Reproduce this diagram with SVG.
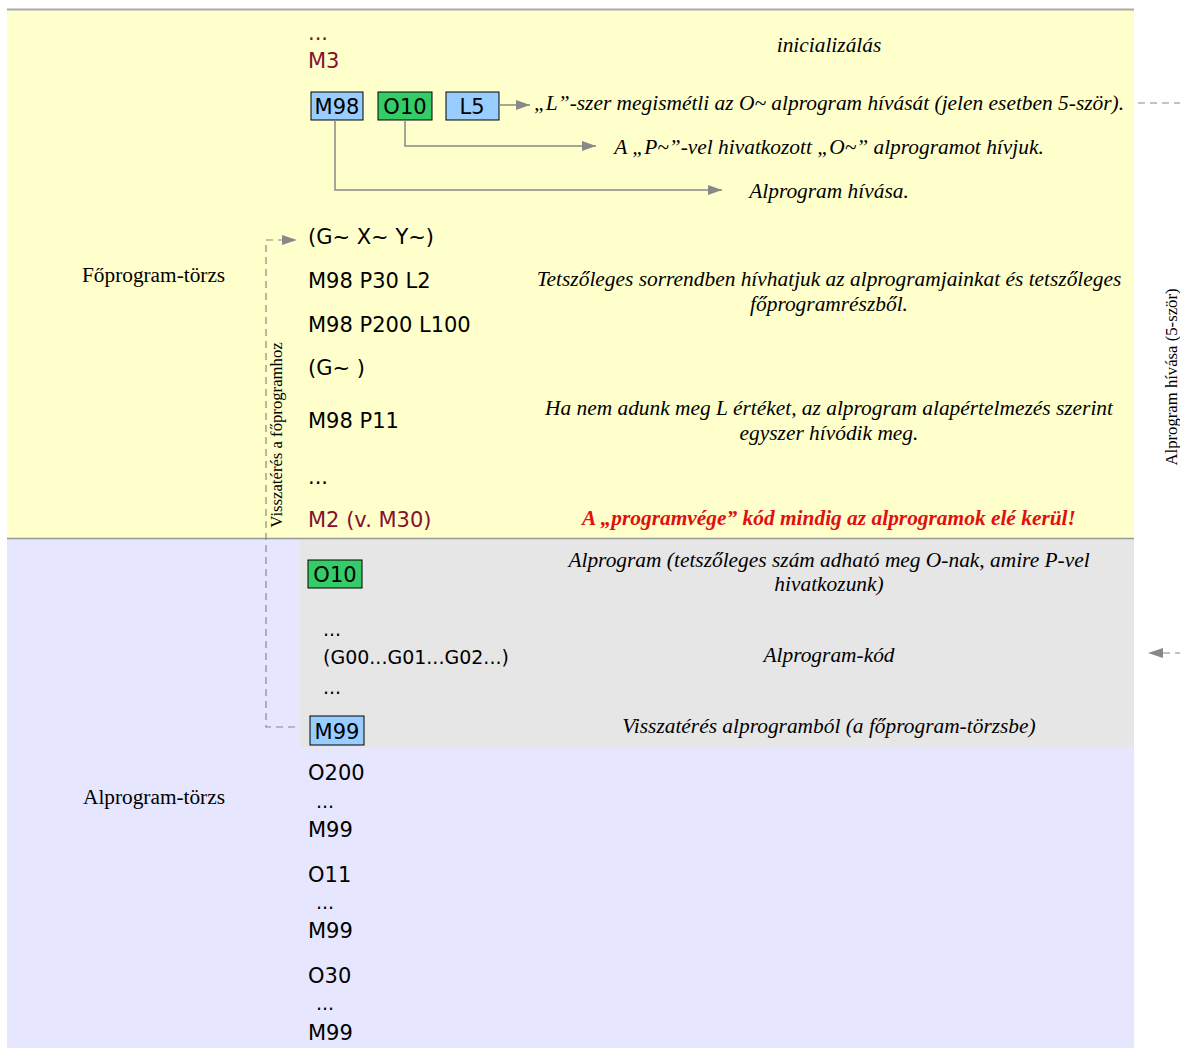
<svg xmlns="http://www.w3.org/2000/svg" width="1180" height="1048" viewBox="0 0 1180 1048">
<defs>
<style>
.code{font-family:"DejaVu Sans",Verdana,sans-serif;font-size:21px;fill:#000}
.sm{font-size:19px}
.red{fill:#850f2c}
.note{font-family:"Liberation Serif","Times New Roman",serif;font-size:21.4px;font-style:italic;fill:#000;text-anchor:middle}
.lbl{font-family:"Liberation Serif","Times New Roman",serif;font-size:21.3px;fill:#000}
.rot{font-family:"Liberation Serif","Times New Roman",serif;font-size:16.7px;fill:#000;text-anchor:middle}
.blue{fill:#99ccff;stroke:#000;stroke-width:1}
.green{fill:#33cc66;stroke:#000;stroke-width:1}
.con{fill:none;stroke:#888;stroke-width:1.5}
.dash{fill:none;stroke:#888;stroke-width:1.2;stroke-dasharray:7,5}
</style>
<marker id="ah" viewBox="0 0 14 10" refX="14" refY="5" markerWidth="14" markerHeight="10" markerUnits="userSpaceOnUse" orient="auto">
<path d="M0,0 L14,5 L0,10 z" fill="#888"/>
</marker>
</defs>
<rect x="0" y="0" width="1180" height="1048" fill="#fff"/>
<g id="regions">
<rect x="7" y="9" width="1127" height="529" fill="#ffffcc"/>
<rect x="7" y="538" width="1127" height="510" fill="#e6e6ff"/>
<rect x="300" y="540" width="834" height="207" fill="#e6e6e6"/>
<line x1="7" y1="9.5" x2="1134" y2="9.5" stroke="#aaa" stroke-width="2"/>
<line x1="7" y1="538.5" x2="1134" y2="538.5" stroke="#999" stroke-width="1.5"/>
</g>
<g id="labels">
<text class="lbl" x="82" y="282">Főprogram-törzs</text>
<text class="lbl" x="83" y="804">Alprogram-törzs</text>
<text class="rot" transform="translate(282,435) rotate(-90)">Visszatérés a főprogramhoz</text>
<text class="rot" transform="translate(1177,377) rotate(-90)">Alprogram hívása (5-ször)</text>
</g>
<g id="main-code">
<text class="code red" x="308" y="40">...</text>
<text class="code red" x="308" y="68">M3</text>
<text class="code" x="308" y="244">(G~ X~ Y~)</text>
<text class="code" x="308" y="288">M98 P30 L2</text>
<text class="code" x="308" y="332">M98 P200 L100</text>
<text class="code" x="308" y="375">(G~ )</text>
<text class="code" x="308" y="428">M98 P11</text>
<text class="code" x="308" y="484">...</text>
<text class="code red" x="308" y="527">M2 (v. M30)</text>
</g>
<g id="node-M98">
<rect class="blue" x="311" y="92" width="52" height="28"/>
<text class="code" x="337" y="114" text-anchor="middle">M98</text>
</g>
<g id="node-O10">
<rect class="green" x="378" y="92" width="54" height="28"/>
<text class="code" x="405" y="114" text-anchor="middle">O10</text>
</g>
<g id="node-L5">
<rect class="blue" x="446" y="92" width="53" height="28"/>
<text class="code" x="472" y="114" text-anchor="middle">L5</text>
</g>
<g id="notes">
<text class="note" x="829" y="52">inicializálás</text>
<text class="note" x="829" y="110">„L”-szer megismétli az O~ alprogram hívását (jelen esetben 5-ször).</text>
<text class="note" x="829" y="154">A „P~”-vel hivatkozott „O~” alprogramot hívjuk.</text>
<text class="note" x="829" y="198">Alprogram hívása.</text>
<text class="note" x="829" y="286">Tetszőleges sorrendben hívhatjuk az alprogramjainkat és tetszőleges</text>
<text class="note" x="829" y="311">főprogramrészből.</text>
<text class="note" x="829" y="415">Ha nem adunk meg L értéket, az alprogram alapértelmezés szerint</text>
<text class="note" x="829" y="440">egyszer hívódik meg.</text>
<text class="note" x="829" y="525" style="font-weight:bold;fill:#e01010">A „programvége” kód mindig az alprogramok elé kerül!</text>
<text class="note" x="829" y="567">Alprogram (tetszőleges szám adható meg O-nak, amire P-vel</text>
<text class="note" x="829" y="591">hivatkozunk)</text>
<text class="note" x="829" y="662">Alprogram-kód</text>
<text class="note" x="829" y="733">Visszatérés alprogramból (a főprogram-törzsbe)</text>
</g>
<g id="node-O10-sub">
<rect class="green" x="308" y="560" width="54" height="28"/>
<text class="code" x="335" y="582" text-anchor="middle">O10</text>
</g>
<g id="sub-code">
<text class="code sm" x="323" y="636">...</text>
<text class="code sm" x="323" y="664">(G00...G01...G02...)</text>
<text class="code sm" x="323" y="694">...</text>
</g>
<g id="node-M99">
<rect class="blue" x="310" y="716" width="54" height="29"/>
<text class="code" x="337" y="739" text-anchor="middle">M99</text>
</g>
<g id="other-subs">
<text class="code" x="308" y="780">O200</text>
<text class="code sm" x="316" y="808">...</text>
<text class="code" x="308" y="837">M99</text>
<text class="code" x="308" y="882">O11</text>
<text class="code sm" x="316" y="909">...</text>
<text class="code" x="308" y="938">M99</text>
<text class="code" x="308" y="983">O30</text>
<text class="code sm" x="316" y="1010">...</text>
<text class="code" x="308" y="1040">M99</text>
</g>
<g id="connectors">
<line class="con" x1="499" y1="105" x2="530" y2="105" marker-end="url(#ah)"/>
<polyline class="con" points="405,120 405,146 596,146" marker-end="url(#ah)"/>
<polyline class="con" points="335,120 335,190 722,190" marker-end="url(#ah)"/>
<polyline class="dash" points="295,727 266,727 266,240 282,240"/>
<path d="M282,235 L297,240 L282,245 z" fill="#888"/>
<line class="dash" x1="1138" y1="103" x2="1180" y2="103"/>
<line class="dash" x1="1163" y1="653" x2="1180" y2="653"/>
<path d="M1163,648 L1148,653 L1163,658 z" fill="#888"/>
</g>
</svg>
